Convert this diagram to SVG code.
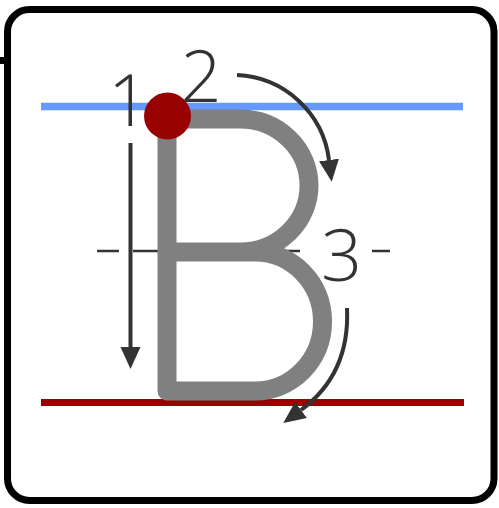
<svg xmlns="http://www.w3.org/2000/svg" width="499" height="508" viewBox="0 0 499 508">
  <style>
    .num { font-family: "Open Sans", "Liberation Sans", sans-serif; font-weight: 300; font-size: 72px; fill: #333333; text-anchor: middle; }
    .arrow { fill: none; stroke: #333333; stroke-width: 4; }
    .dash { stroke: #333333; stroke-width: 2.5; }
  </style>
  <defs>
    <marker id="head" markerUnits="userSpaceOnUse" markerWidth="23" markerHeight="22" refX="0" refY="10" orient="auto">
      <path d="M0,0 L22,10 L0,20 Z" fill="#333333"/>
    </marker>
  </defs>
  <rect x="0" y="0" width="499" height="508" fill="#ffffff"/>
  <rect x="0" y="57" width="4" height="7" fill="#000000"/>
  <rect id="frame" x="7.5" y="9.5" width="486.5" height="491" rx="22" ry="22" fill="#ffffff" stroke="#000000" stroke-width="7"/>

  <g id="guides">
    <line x1="41" y1="106.5" x2="463" y2="106.5" stroke="#6699ff" stroke-width="7.5"/>
    <line x1="41" y1="402.5" x2="464" y2="402.5" stroke="#990000" stroke-width="7"/>
    <line class="dash" x1="97" y1="251" x2="119" y2="251"/>
    <line class="dash" x1="133" y1="251" x2="165" y2="251"/>
    <line class="dash" x1="270" y1="251" x2="300" y2="251"/>
    <line class="dash" x1="372" y1="251" x2="390" y2="251"/>
  </g>

  <g id="letter">
    <path d="M167,252 H240 A69,66.5 0 0 0 240,119 H167 V391 H255 A67.5,69.5 0 0 0 255,252 H240" fill="none" stroke="#808080" stroke-width="19" stroke-linejoin="round"/>
  </g>

  <g id="start-dot">
    <circle cx="167.5" cy="116" r="23.5" fill="#990000"/>
  </g>

  <g id="connectors">
    <line class="arrow" x1="130.5" y1="143" x2="130.5" y2="347" marker-end="url(#head)"/>
    <path class="arrow" d="M237,75 A97,97 0 0 1 329,160" marker-end="url(#head)"/>
    <path class="arrow" d="M347,308 C349,350 335,385 301,410" marker-end="url(#head)"/>
  </g>

  <g id="labels">
    <text class="num" x="128.5" y="126">1</text>
    <text class="num" x="201" y="102">2</text>
    <text class="num" x="341.5" y="281">3</text>
  </g>
</svg>
